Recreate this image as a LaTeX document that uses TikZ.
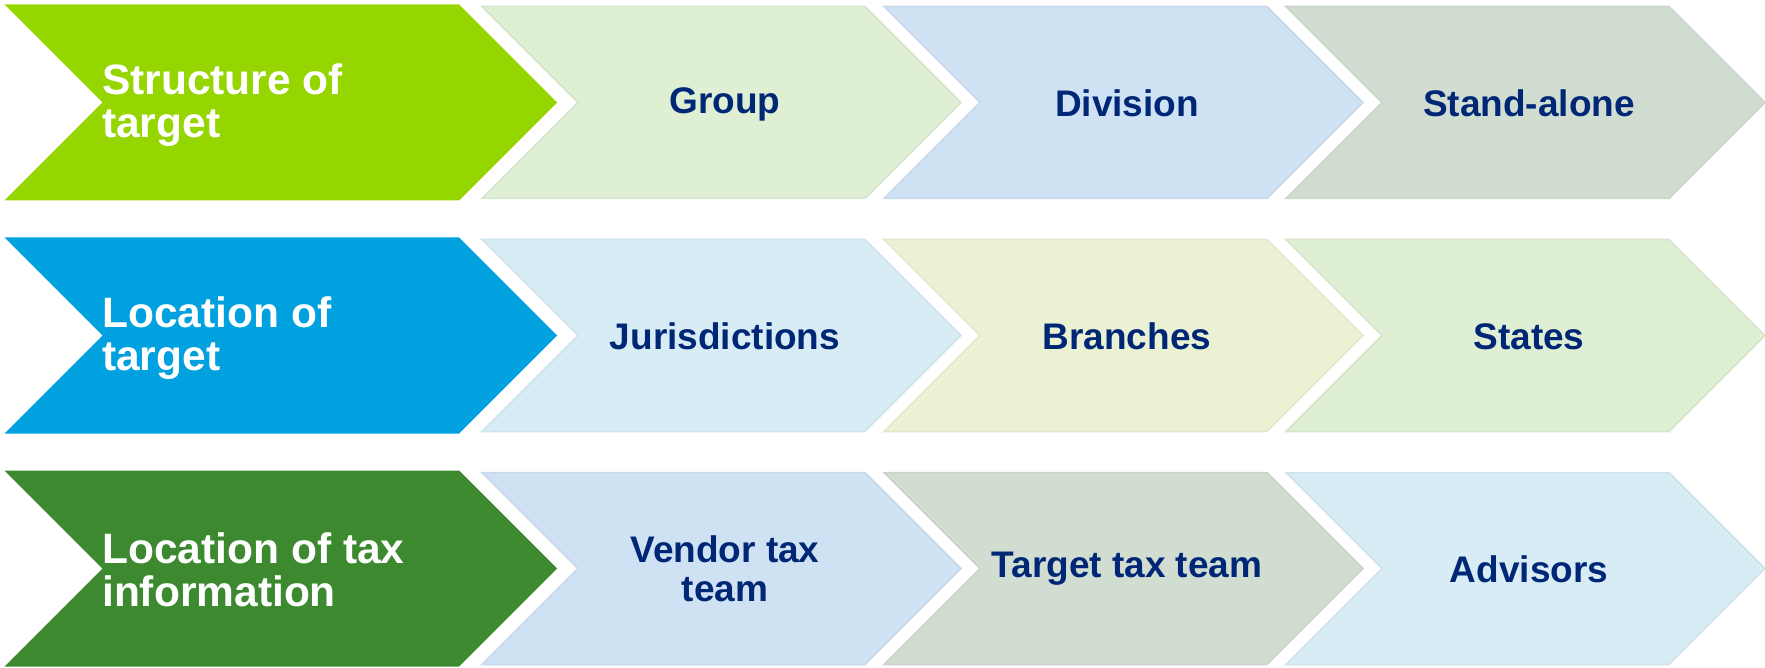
\documentclass[tikz,border=0pt]{standalone}
\usepackage{fontspec}
\setmainfont{Liberation Sans}
\definecolor{cgreen}{RGB}{149,214,0}
\definecolor{cblue}{RGB}{0,161,222}
\definecolor{cdgreen}{RGB}{61,137,48}
\definecolor{lgreen}{RGB}{223,239,211}
\definecolor{lblue}{RGB}{207,226,243}
\definecolor{lgrey}{RGB}{210,221,210}
\definecolor{lsky}{RGB}{216,236,246}
\definecolor{lyell}{RGB}{234,242,211}
\definecolor{navy}{RGB}{0,39,118}
\newcommand\mychev[5]{%
  \path[#5] (#1,#2) -- ({#1+#3},#2) -- ({#1+#3+#4/2},{#2+#4/2})
    -- ({#1+#3},{#2+#4}) -- (#1,{#2+#4}) -- ({#1+#4/2},{#2+#4/2}) -- cycle;}
\tikzset{
  headchev/.style={fill=#1},
  lightchev/.style={fill=#1, draw=#1!96!black, line width=1.5pt, line join=miter},
  headtext/.style={anchor=west, align=left, text=white,
    font=\fontsize{42.5}{43.5}\selectfont\bfseries, inner sep=0pt},
  bodytext/.style={align=center, text=navy,
    font=\fontsize{37}{38.5}\selectfont\bfseries, inner sep=0pt},
}
\begin{document}
\begin{tikzpicture}[x=1pt,y=-1pt]
\useasboundingbox (0,0) rectangle (1765,668);
% row 1
\mychev{4.5}{4.5}{454.5}{196}{headchev=cgreen}
\mychev{482}{6.5}{383}{192}{lightchev=lgreen}
\mychev{884}{6.5}{383}{192}{lightchev=lblue}
\mychev{1286}{6.5}{383}{192}{lightchev=lgrey}
\node[headtext] (h1) at (102,105) {Structure of\\target};
\node[bodytext] (g) at (725,104) {Group};
\node[bodytext] (d) at (1127,103) {Division};
\node[bodytext] (s) at (1529,103) {Stand-alone};
% row 2
\mychev{4.5}{237.5}{454.5}{196}{headchev=cblue}
\mychev{482}{239.5}{383}{192}{lightchev=lsky}
\mychev{884}{239.5}{383}{192}{lightchev=lyell}
\mychev{1286}{239.5}{383}{192}{lightchev=lgreen}
\node[headtext] (h2) at (102,338) {Location of\\target};
\node[bodytext] (j) at (725,336.5) {Jurisdictions};
\node[bodytext] (b) at (1127,336.5) {Branches};
\node[bodytext] (st) at (1529,336.5) {States};
% row 3
\mychev{4.5}{470.5}{454.5}{196}{headchev=cdgreen}
\mychev{482}{472.5}{383}{192}{lightchev=lblue}
\mychev{884}{472.5}{383}{192}{lightchev=lgrey}
\mychev{1286}{472.5}{383}{192}{lightchev=lsky}
\node[headtext] (h3) at (102,570) {Location of tax\\information};
\node[bodytext] (v) at (725,569) {Vendor tax\\team};
\node[bodytext] (t) at (1127,569) {Target tax team};
\node[bodytext] (a) at (1529,569) {Advisors};
\end{tikzpicture}
\end{document}
